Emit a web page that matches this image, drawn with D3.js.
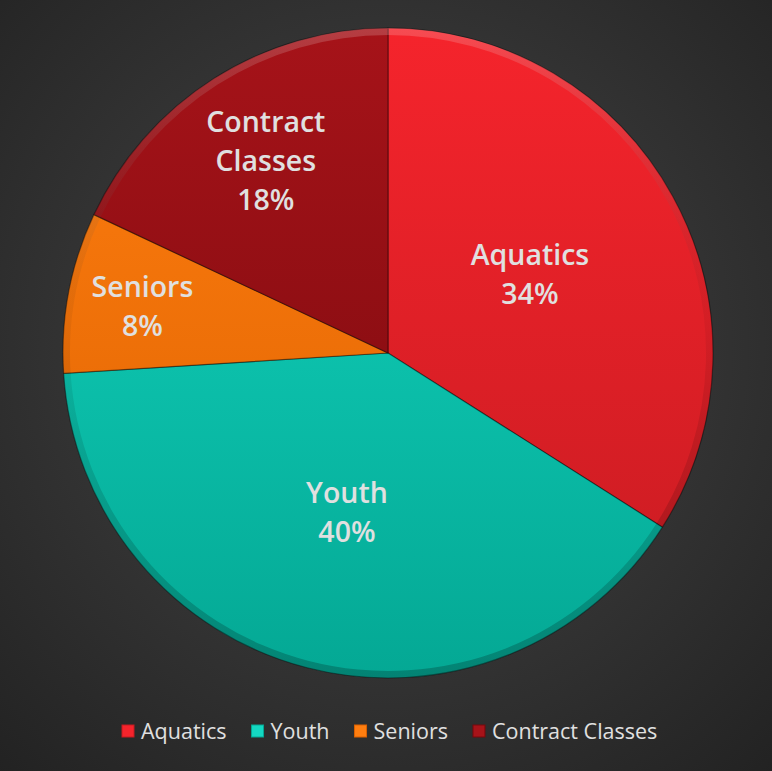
<!DOCTYPE html>
<html>
<head>
<meta charset="utf-8">
<script src="https://cdn.jsdelivr.net/npm/d3@7"></script>
<style>
  html, body { margin: 0; padding: 0; background: #2b2b2b; }
  svg { display: block; }
  .lbl { font-family: "Open Sans", "Noto Sans", sans-serif; font-weight: 600; fill: #e0e0e0; }
  .leg { font-family: "Open Sans", "Noto Sans", sans-serif; fill: #e0e0e0; }
</style>
</head>
<body>
<div id="chart"></div>
<script>
// data
const categories = ["Aquatics", "Youth", "Seniors", "Contract Classes"];
const shares = [34, 40, 8, 18];
const chartLabels = [["Aquatics", "34%"], ["Youth", "40%"], ["Seniors", "8%"], ["Contract", "Classes", "18%"]];

// colours (top, bottom of each slice)
const colTop = ["#f5242c", "#14d8c2", "#ff7e10", "#a61319"];
const colBot = ["#c61b21", "#04a894", "#dc6100", "#76090d"];

const width = 772, height = 771;
const cx = 388, cy = 353, radius = 325;
const labelRadii = [162, 165, 250, 228]; // où Excel a posé les étiquettes

const svg = d3.select("#chart").append("svg")
    .attr("width", width)
    .attr("height", height);

const defs = svg.append("defs");

// fond gris radial
const bg = defs.append("radialGradient").attr("id", "bg")
    .attr("cx", "50%").attr("cy", "45%").attr("r", "75%");
bg.append("stop").attr("offset", "0%").attr("stop-color", "#474747");
bg.append("stop").attr("offset", "100%").attr("stop-color", "#222222");
svg.append("rect").attr("width", width).attr("height", height).attr("fill", "url(#bg)");

categories.forEach((c, i) => {
  const g = defs.append("linearGradient").attr("id", "g" + i)
      .attr("gradientUnits", "userSpaceOnUse")
      .attr("x1", 0).attr("y1", -radius).attr("x2", 0).attr("y2", radius);
  g.append("stop").attr("offset", "0%").attr("stop-color", colTop[i]);
  g.append("stop").attr("offset", "100%").attr("stop-color", colBot[i]);
});

const bev = defs.append("linearGradient").attr("id", "bev")
    .attr("gradientUnits", "userSpaceOnUse")
    .attr("x1", 0).attr("y1", -radius).attr("x2", 0).attr("y2", radius);
bev.append("stop").attr("offset", "0%").attr("stop-color", "rgba(255,255,255,0.18)");
bev.append("stop").attr("offset", "45%").attr("stop-color", "rgba(0,0,0,0.05)");
bev.append("stop").attr("offset", "100%").attr("stop-color", "rgba(0,0,0,0.22)");

const pie = d3.pie().sort(null).value(d => d);
const arcs = pie(shares);

const arc = d3.arc().innerRadius(0).outerRadius(radius);
const bevel = d3.arc().innerRadius(radius - 7).outerRadius(radius);

const gPie = svg.append("g").attr("transform", `translate(${cx},${cy})`);

gPie.selectAll("path.slice")
  .data(arcs)
  .join("path")
    .attr("class", "slice")
    .attr("d", arc)
    .attr("fill", (d, i) => `url(#g${i})`)
    .attr("stroke", "rgba(0,0,0,0.4)")
    .attr("stroke-width", 1.2);

// petit biseau sur le bord
gPie.selectAll("path.bevel")
  .data(arcs)
  .join("path")
    .attr("class", "bevel")
    .attr("d", bevel)
    .attr("fill", "url(#bev)");

// étiquettes
const lineH = 39;
arcs.forEach((d, i) => {
  const a = (d.startAngle + d.endAngle) / 2;
  const x = Math.sin(a) * labelRadii[i];
  const y = -Math.cos(a) * labelRadii[i];
  const lines = chartLabels[i];
  const t = gPie.append("text").attr("class", "lbl")
      .attr("text-anchor", "middle")
      .attr("font-size", 28.5);
  lines.forEach((l, k) => {
    t.append("tspan")
      .attr("x", x)
      .attr("y", y + (k - (lines.length - 1) / 2) * lineH + 10)
      .text(l);
  });
});

// légende : placée à la suite, selon la largeur du texte
const leg = svg.append("g");
let lx = 122;
categories.forEach((c, i) => {
  leg.append("rect")
    .attr("x", lx).attr("y", 725)
    .attr("width", 12).attr("height", 12)
    .attr("fill", colTop[i])
    .attr("stroke", colBot[i]);
  const t = leg.append("text").attr("class", "leg")
    .attr("x", lx + 19).attr("y", 739)
    .attr("font-size", 21.5)
    .text(c);
  lx += 19 + t.node().getComputedTextLength() + 25;
});
</script>
</body>
</html>
